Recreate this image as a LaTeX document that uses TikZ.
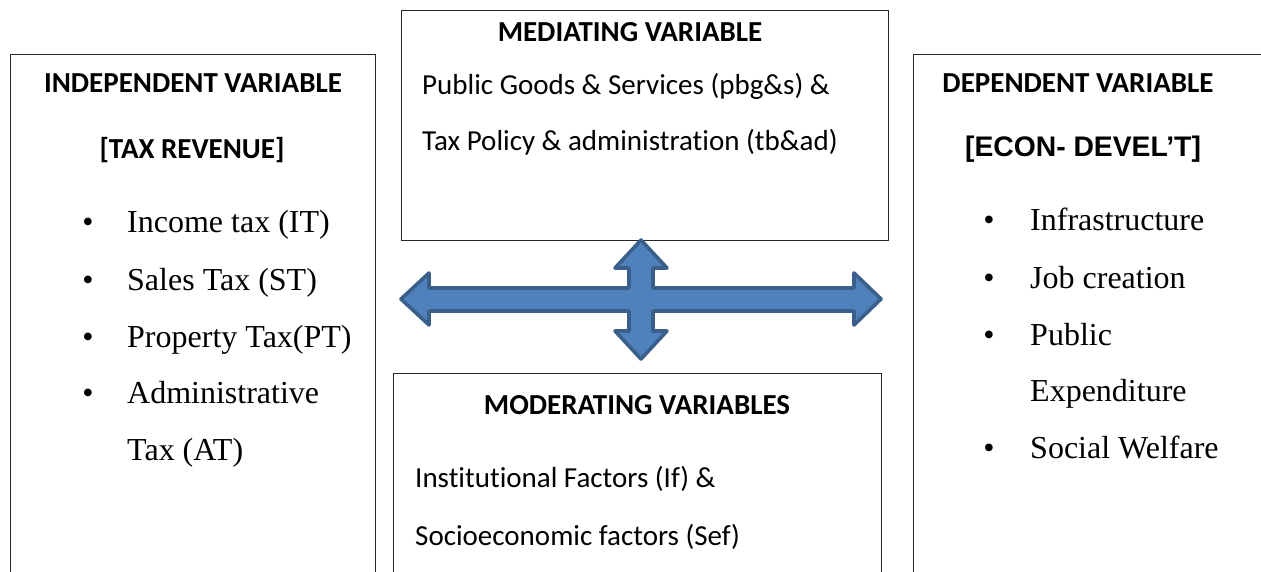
\documentclass[tikz,border=0pt]{standalone}
\usepackage{fontspec}
\setmainfont{Liberation Serif}
\newfontfamily\calfont[Ligatures=NoCommon]{Carlito}
\newfontfamily\arialfont{Liberation Sans}
\definecolor{arrowfill}{HTML}{4F81BD}
\definecolor{arrowline}{HTML}{3A5F8B}

\begin{document}
\begin{tikzpicture}[x=1pt,y=-1pt,
  box/.style={draw=black!85, line width=1.3pt, anchor=north west, inner sep=0pt},
  head/.style={font=\calfont\bfseries\fontsize{29}{34}\selectfont, anchor=base, inner sep=0pt},
  body/.style={font=\calfont\fontsize{29}{34}\selectfont, anchor=base west, inner sep=0pt},
  item/.style={font=\fontsize{32}{38}\selectfont, anchor=base west, inner sep=0pt},
  dot/.style={font=\fontsize{32}{38}\selectfont, anchor=base, inner sep=0pt},
]
\useasboundingbox (0,0) rectangle (1261,571);
\clip (0,0) rectangle (1261,571);
\fill[white] (0,0) rectangle (1261,571);

% frames
\node[box, minimum width=365pt, minimum height=540pt] (indep) at (10,54) {};
\node[box, minimum width=400pt, minimum height=540pt] (dep) at (913,54) {};
\node[box, minimum width=487pt, minimum height=230pt] (med) at (401,10) {};
\node[box, minimum width=488pt, minimum height=250pt] (mod) at (393,373) {};

% independent variable
\node[head] (indepT) at (193,92) {INDEPENDENT VARIABLE};
\node[head] (indepS) at (192,158) {[TAX REVENUE]};
\node[dot] (iD1) at (88,232) {•};
\node[item] (i1) at (127,232) {Income tax (IT)};
\node[dot] (iD2) at (88,290) {•};
\node[item] (i2) at (127,290) {Sales Tax (ST)};
\node[dot] (iD3) at (88,347) {•};
\node[item] (i3) at (127,347) {Property Tax(PT)};
\node[dot] (iD4) at (88,403) {•};
\node[item] (i4) at (127,403) {Administrative};
\node[item] (i5) at (127,460) {Tax (AT)};

% dependent variable
\node[head] (depT) at (1078,92) {DEPENDENT VARIABLE};
\node[font=\arialfont\bfseries\fontsize{28.3}{33}\selectfont, anchor=base, inner sep=0pt] (depS) at (1083,156) {[ECON- DEVEL’T]};
\node[dot] (dD1) at (989,230) {•};
\node[item] (d1) at (1030,230) {Infrastructure};
\node[dot] (dD2) at (989,288) {•};
\node[item] (d2) at (1030,288) {Job creation};
\node[dot] (dD3) at (989,345) {•};
\node[item] (d3) at (1030,345) {Public};
\node[item] (d4) at (1030,401) {Expenditure};
\node[dot] (dD5) at (989,458) {•};
\node[item] (d5) at (1030,458) {Social Welfare};

% mediating variable
\node[head] (medT) at (630,41) {MEDIATING VARIABLE};
\node[body] (m1) at (422,94) {Public Goods \& Services (pbg\&s) \&};
\node[body] (m2) at (422,150) {Tax Policy \& administration (tb\&ad)};

% moderating variables
\node[head] (modT) at (637,414) {MODERATING VARIABLES};
\node[body] (o1) at (415,487) {Institutional Factors (If) \&};
\node[body] (o2) at (415,545) {Socioeconomic factors (Sef)};

% four-way block arrow
\filldraw[fill=arrowfill, draw=arrowline, line width=3.6pt, line join=round]
  (401,299) -- (429,273) -- (429,288) -- (629,288) -- (629,268) -- (615,268)
  -- (641,240) -- (667,268) -- (653,268) -- (653,288) -- (854,288) -- (854,273)
  -- (881,299) -- (854,325) -- (854,311) -- (653,311) -- (653,331) -- (667,331)
  -- (641,359) -- (615,331) -- (629,331) -- (629,311) -- (429,311) -- (429,325)
  -- cycle;
\end{tikzpicture}
\end{document}
